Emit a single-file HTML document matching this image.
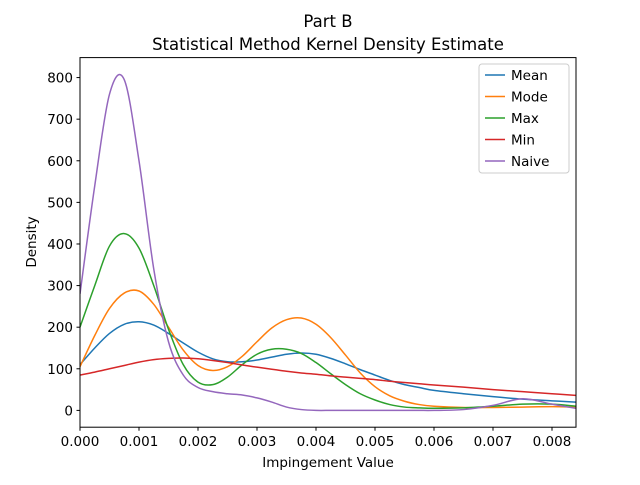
<!DOCTYPE html>
<html><head><meta charset="utf-8"><style>
body{margin:0;background:#fff}
svg text{font-family:"DejaVu Sans","Liberation Sans",sans-serif;fill:#000}
</style></head><body>
<svg id="c" width="640" height="480" xmlns="http://www.w3.org/2000/svg">
<rect width="640" height="480" fill="#fff"/>
<text x="328" y="27" font-size="16.5" text-anchor="middle">Part B</text>
<text x="328" y="50" font-size="16.5" text-anchor="middle">Statistical Method Kernel Density Estimate</text>
<defs><clipPath id="clip"><rect x="80" y="57.6" width="496" height="369.6"/></clipPath></defs>
<g id="xt"></g>
<g id="yt"></g>
<g id="lines" clip-path="url(#clip)"></g>
<rect x="80" y="57.6" width="496" height="369.6" fill="none" stroke="#000" stroke-width="1"/>
<text x="328" y="467" font-size="13.5" text-anchor="middle">Impingement Value</text>
<text transform="translate(36,242) rotate(-90)" font-size="13.5" text-anchor="middle">Density</text>
<g id="legend"></g>
</svg>
<script>
const xGrid=[0,0.00025,0.0005,0.00075,0.001,0.00125,0.0015,0.00175,0.002,0.00225,0.0025,0.00275,0.003,0.00325,0.0035,0.00375,0.004,0.00425,0.0045,0.00475,0.005,0.00525,0.0055,0.00575,0.006,0.0065,0.007,0.0075,0.008,0.0084];
const seriesNames=["Mean","Mode","Max","Min","Naive"];
const seriesColors=["#1f77b4","#ff7f0e","#2ca02c","#d62728","#9467bd"];
const meanVals=[110,150,185,207,213,205,185,162,140,124,117,117,121,128,135,138,135,125,112,98,85,72,62,55,48,40,33,27,23,20];
const modeVals=[105,180,245,282,287,255,200,145,108,96,105,130,165,198,218,222,207,175,133,90,57,35,22,14,10,7,7,8,9,8];
const maxVals=[200,300,395,425,390,300,195,110,68,62,80,110,135,147,147,137,115,88,62,40,25,14,8,6,5,6,10,15,15,10];
const minVals=[85,92,100,108,116,122,125,126,124,120,115,109,104,99,94,90,87,83,80,77,74,70,67,64,61,56,50,45,40,36];
const naiveVals=[280,540,760,795,600,340,165,85,55,45,40,37,30,20,8,2,0,0,0,0,0,0,0,0,0,2,12,28,15,5];
const xTicks=[0,0.001,0.002,0.003,0.004,0.005,0.006,0.007,0.008];
const xTickLabels=["0.000","0.001","0.002","0.003","0.004","0.005","0.006","0.007","0.008"];
const yTicks=[0,100,200,300,400,500,600,700,800];
const yTickLabels=["0","100","200","300","400","500","600","700","800"];

const NS="http://www.w3.org/2000/svg";
const X0=0,X1=0.0084068,Y0=-40.4,Y1=848;
const sx=v=>80+(v-X0)/(X1-X0)*496;
const sy=v=>427.2-(v-Y0)/(Y1-Y0)*369.6;
function mk(t,a,p){const e=document.createElementNS(NS,t);for(const k in a)e.setAttribute(k,a[k]);p.appendChild(e);return e;}
const xt=document.getElementById('xt'),yt=document.getElementById('yt');
xTicks.forEach((v,i)=>{const x=sx(v);
 const l=mk('line',{x1:x,x2:x,y1:427.2,y2:430.7,stroke:'#000'},xt);
 
 
 const t=mk('text',{x:x,y:446,'font-size':13.5,'text-anchor':'middle'},xt);t.textContent=xTickLabels[i];
 
 });
yTicks.forEach((v,i)=>{const y=sy(v);
 const l=mk('line',{x1:76.5,x2:80,y1:y,y2:y,stroke:'#000'},yt);
 
 
 const t=mk('text',{x:73,y:y+5,'font-size':13.5,'text-anchor':'end'},yt);t.textContent=yTickLabels[i];
 
 });
function pathD(xs,ys){const P=xs.map((x,i)=>[sx(x),sy(ys[i])]);let d=`M${P[0][0]},${P[0][1]}`;
 for(let i=0;i<P.length-1;i++){const p0=P[i-1]||P[i],p1=P[i],p2=P[i+1],p3=P[i+2]||p2;
  const c1=[p1[0]+(p2[0]-p0[0])/6,p1[1]+(p2[1]-p0[1])/6],c2=[p2[0]-(p3[0]-p1[0])/6,p2[1]-(p3[1]-p1[1])/6];
  d+=`C${c1[0]},${c1[1]} ${c2[0]},${c2[1]} ${p2[0]},${p2[1]}`;}return d;}
const all=[meanVals,modeVals,maxVals,minVals,naiveVals];
const g=document.getElementById('lines');
all.forEach((vals,i)=>{const p=mk('path',{d:pathD(xGrid,vals),fill:'none',stroke:seriesColors[i],'stroke-width':1.5},g);
 
 });
const lg=document.getElementById('legend');
const box=mk('rect',{x:479,y:64,width:90,height:109,rx:3,fill:'#fff','fill-opacity':0.8,stroke:'#ccc'},lg);


seriesNames.forEach((n,i)=>{const y=75+i*21.5;
 const l=mk('line',{x1:485,x2:505,y1:y,y2:y,stroke:seriesColors[i],'stroke-width':1.5},lg);
 
 
 const t=mk('text',{x:511,y:y+4.8,'font-size':13.5},lg);t.textContent=n;
 
 });
</script>
</body></html>
